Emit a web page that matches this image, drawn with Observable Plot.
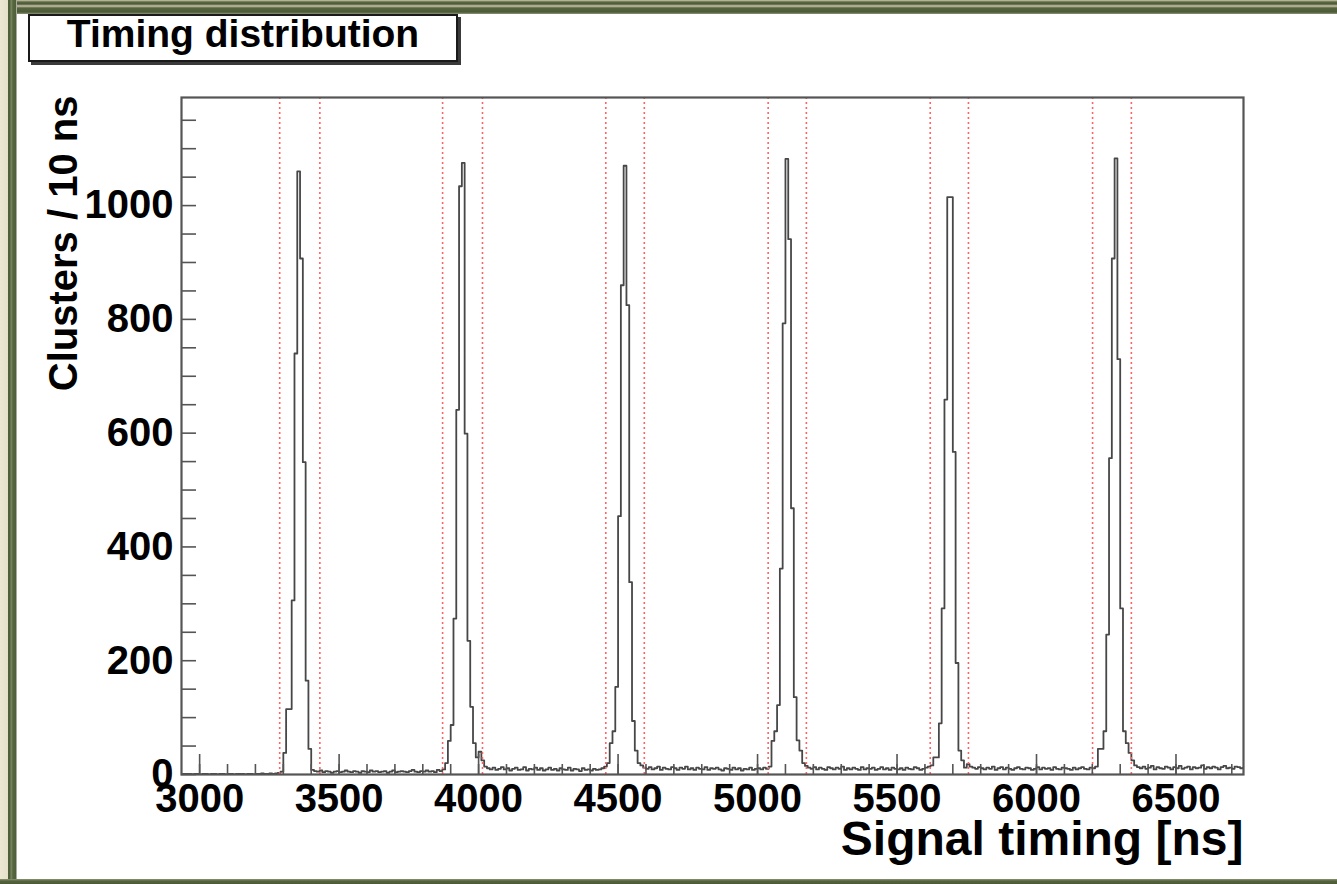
<!DOCTYPE html>
<html>
<head>
<meta charset="utf-8">
<script src="https://cdn.jsdelivr.net/npm/d3@7"></script>
<script src="https://cdn.jsdelivr.net/npm/@observablehq/plot@0.6"></script>
<style>
  html, body { margin: 0; padding: 0; background: #fff; overflow: hidden; }
  #wrap { position: relative; width: 1337px; height: 884px; background: #fff; }
  #chart { position: absolute; left: 0; top: 0; }
  .title {
    position: absolute; left: 28px; top: 14px; width: 426px; height: 44px;
    border: 2px solid #1a1a1a; box-shadow: 3px 3px 0 #3a3a3a; background: #fff;
    font: bold 39px/36px "Liberation Sans", Arial, Helvetica, sans-serif;
    text-align: center; color: #000; z-index: 3;
  }
  .btop {
    position: absolute; left: 0; top: 0; width: 1337px; height: 14px; z-index: 4;
    background: linear-gradient(180deg, #cfcbb2 0px, #5a6842 2px, #4b5a36 4px, #c9c5ac 6px, #56643f 8px, #4c5a37 12px, #8e9478 14px);
  }
  .bleft {
    position: absolute; left: 0; top: 0; width: 17px; height: 884px; z-index: 4;
    background: linear-gradient(90deg, #ebe7d3 0px, #e4e0ca 8px, #4f5f3a 8px, #4f5f3a 10px, #7d8a66 11px, #56663f 13px, #4f5f3a 16px, #ffffff 17px);
  }
  .bbottom {
    position: absolute; left: 0; top: 879px; width: 1337px; height: 5px; z-index: 4;
    background: linear-gradient(180deg, #8e9478 0px, #55633f 2px, #4b5935 5px);
  }
</style>
</head>
<body>
<div id="wrap">
  <div id="chart"></div>
  <div class="title">Timing distribution</div>
  <div class="btop"></div>
  <div class="bleft"></div>
  <div class="bbottom"></div>
</div>
<script>
// ---- axis / tick values ----
const xTickLabels = [3000, 3500, 4000, 4500, 5000, 5500, 6000, 6500];
const xMinorTicks = [3000, 3100, 3200, 3300, 3400, 3500, 3600, 3700, 3800, 3900, 4000, 4100, 4200, 4300, 4400, 4500, 4600, 4700, 4800, 4900, 5000, 5100, 5200, 5300, 5400, 5500, 5600, 5700, 5800, 5900, 6000, 6100, 6200, 6300, 6400, 6500, 6600, 6700];
const yTickLabels = [0, 200, 400, 600, 800, 1000];
const yMinorTicks = [0, 50, 100, 150, 200, 250, 300, 350, 400, 450, 500, 550, 600, 650, 700, 750, 800, 850, 900, 950, 1000, 1050, 1100, 1150];
const xDomain = [2935, 6742];
const yDomain = [0, 1190];

// ---- timing window cut lines (ns) ----
const cutLines = [3287, 3431, 3871, 4014, 4456, 4594, 5038, 5175, 5619, 5756, 6201, 6340];

// ---- histogram: 10 ns bins ----
const binWidth = 10;
const histStart = 2940;
const histEnd = 6740;

// peaks: first bin (ns) and counts per bin
const peakStarts = [3290, 3880, 4460, 5050, 5630, 6220];
const peak1 = [5, 38, 115, 115, 306, 740, 1060, 907, 549, 165, 45, 8];
const peak2 = [20, 59, 87, 274, 641, 1034, 1075, 599, 235, 119, 55, 30, 40, 25];
const peak3 = [20, 55, 76, 154, 454, 860, 1070, 825, 338, 94, 42, 20];
const peak4 = [59, 76, 122, 362, 793, 1082, 941, 468, 136, 60, 42, 20];
const peak5 = [30, 30, 90, 292, 659, 1015, 1015, 567, 196, 42, 25, 12];
const peak6 = [45, 45, 76, 246, 556, 907, 1083, 730, 292, 76, 55, 38, 25];

// background between peaks: first bin (ns) and counts per bin
const gapStarts = [2940, 3410, 4020, 4580, 5170, 5750, 6350];
const gap0 = [1,1,1,0,1,1,0,1,1,0,1,1,0,1,1,0,1,1,0,1,1,1,0,1,1,0,1,1,2,1,1,2,1,2,3];
const gap1 = [6,5,7,4,6,5,3,5,6,4,5,7,5,4,6,5,3,6,5,4,7,5,6,4,5,6,3,5,7,4,5,6,5,4,6,8,5,4,6,5,7,5,6,4,8,6,9];
const gap2 = [14,11,9,12,8,10,13,9,11,7,10,12,8,9,13,7,10,9,12,8,11,7,9,12,8,10,7,11,9,8,12,7,10,9,6,11,8,9,7,10,8,9,11,14];
const gap3 = [16,12,10,13,9,11,14,8,12,10,9,13,11,8,12,10,14,9,11,8,12,10,9,13,8,11,10,12,9,7,11,10,8,12,9,11,7,10,9,12,8,10,11,9,12,10,14];
const gap4 = [15,12,10,13,9,12,10,8,13,11,9,12,10,14,8,11,9,12,10,8,13,9,11,10,12,8,10,13,9,11,8,12,10,9,11,8,12,10,9,13,11,8,10,12,14,16];
const gap5 = [18,14,12,10,13,11,9,12,10,14,8,11,13,9,12,10,8,11,13,10,9,12,11,8,10,13,9,12,10,11,8,13,10,9,12,11,10,8,12,9,11,13,10,9,12,11,14];
const gap6 = [16,13,11,14,10,12,15,9,13,11,10,14,12,9,13,11,15,10,12,14,9,13,11,12,16,10,13,11,14,12,9,13,15,11,12,10,14,13,11,12];

// ---- build bin table ----
const peaks = [peak1, peak2, peak3, peak4, peak5, peak6];
const gaps = [gap0, gap1, gap2, gap3, gap4, gap5, gap6];
const countMap = new Map();
gapStarts.forEach((s, i) => gaps[i].forEach((c, j) => countMap.set(s + j * binWidth, c)));
peakStarts.forEach((s, i) => peaks[i].forEach((c, j) => countMap.set(s + j * binWidth, c)));
const bins = [];
for (let t = histStart; t <= histEnd; t += binWidth) bins.push({t, c: countMap.get(t) ?? 0});
bins.push({t: histEnd + binWidth, c: bins[bins.length - 1].c});

// ---- layout ----
const W = 1337, H = 884;
const mL = 181, mR = 94, mT = 97, mB = 110;
const plotW = W - mL - mR, plotH = H - mT - mB;
const axisColor = "#555";
const fontFamily = "'Liberation Sans', Arial, Helvetica, sans-serif";

const chart = Plot.plot({
  width: W, height: H,
  marginLeft: mL, marginRight: mR, marginTop: mT, marginBottom: mB,
  style: {background: "transparent", fontFamily, fontSize: "40px", fontWeight: "bold", color: "#000", overflow: "visible"},
  x: {domain: xDomain, label: null},
  y: {domain: yDomain, label: null},
  marks: [
    Plot.line(bins, {x: "t", y: "c", curve: "step-after", stroke: "#474747", strokeWidth: 1.8, clip: true}),
    Plot.ruleX(cutLines, {x: d => d, stroke: "#ff6464", strokeWidth: 1.6, strokeDasharray: "2,3"}),
    Plot.tickX(xTickLabels, {x: d => d, insetTop: plotH - 20, stroke: axisColor, strokeWidth: 1.6}),
    Plot.tickX(xMinorTicks, {x: d => d, insetTop: plotH - 10, stroke: axisColor, strokeWidth: 1.6}),
    Plot.tickY(yMinorTicks, {y: d => d, insetRight: plotW - 15, stroke: axisColor, strokeWidth: 1.6}),
    Plot.frame({stroke: axisColor, strokeWidth: 2.2}),
    Plot.axisX(xTickLabels, {tickSize: 0, tickPadding: 9, fontSize: 40, fontWeight: "bold", tickFormat: d => String(d), label: null}),
    Plot.axisY(yTickLabels, {tickSize: 0, tickPadding: 8, fontSize: 40, fontWeight: "bold", tickFormat: d => String(d), label: null}),
    Plot.text(["Signal timing [ns]"], {text: d => d, frameAnchor: "bottom-right", textAnchor: "end", lineAnchor: "middle", dy: 65, fontSize: 48, fontWeight: "bold"}),
    Plot.text(["Clusters / 10 ns"], {text: d => d, frameAnchor: "top-left", rotate: -90, textAnchor: "end", lineAnchor: "middle", dx: -117, dy: -2, fontSize: 40, fontWeight: "bold"})
  ]
});
document.getElementById("chart").appendChild(chart);
</script>
</body>
</html>
